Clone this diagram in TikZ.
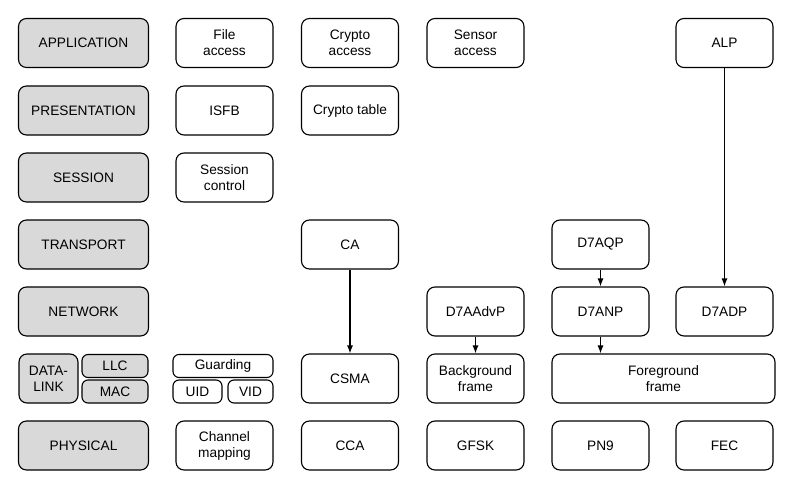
\documentclass[tikz,border=0pt]{standalone}
\usepackage{fontspec}
\setmainfont{Liberation Sans}
\usetikzlibrary{arrows.meta}
\definecolor{layergray}{HTML}{D9D9D9}
\tikzset{
  box/.style={draw=black, line width=1.1pt, rounded corners=8pt, fill=white,
    minimum width=97pt, minimum height=49pt, inner sep=1pt, align=center,
    font=\fontsize{13.7}{16}\selectfont},
  layer/.style={box, fill=layergray, minimum width=130pt},
  small/.style={box, rounded corners=6pt, minimum height=23pt},
  arr/.style={line width=1.1pt, -{Latex[length=8pt,width=6pt]}}
}
\begin{document}
\begin{tikzpicture}[x=1pt,y=-1pt]
\useasboundingbox (0,0) rectangle (793,487);
% layers
\node[layer] (app) at (83.5,43) {APPLICATION};
\node[layer] (pres) at (83.5,110.5) {PRESENTATION};
\node[layer] (sess) at (83.5,177.5) {SESSION};
\node[layer] (trans) at (83.5,244.5) {TRANSPORT};
\node[layer] (net) at (83.5,311.5) {NETWORK};
\node[layer, minimum width=59pt] (dl) at (48.5,378.5) {DATA-\\LINK};
\node[small, fill=layergray, minimum width=66pt] (llc) at (115,366) {LLC};
\node[small, fill=layergray, minimum width=66pt] (mac) at (115,391.5) {MAC};
\node[layer] (phys) at (83.5,445.5) {PHYSICAL};
% row 1
\node[box] (fa) at (224.5,43) {File\\access};
\node[box] (ca1) at (350,43) {Crypto\\access};
\node[box] (sa) at (475.5,43) {Sensor\\access};
\node[box] (alp) at (724.5,43) {ALP};
% row 2
\node[box] (isfb) at (224.5,110.5) {ISFB};
\node[box] (ct) at (350,110.5) {Crypto table};
% row 3
\node[box] (sc) at (224.5,177.5) {Session\\control};
% row 4
\node[box] (ca) at (350,244.5) {CA};
\node[box] (qp) at (600.5,244.5) {D7AQP};
% row 5
\node[box] (adv) at (475.5,311.5) {D7AAdvP};
\node[box] (anp) at (600.5,311.5) {D7ANP};
\node[box] (adp) at (724.5,311.5) {D7ADP};
% row 6
\node[small, minimum width=100pt] (guard) at (223,366) {Guarding};
\node[small, minimum width=49pt] (uid) at (197.5,391.5) {UID};
\node[small, minimum width=45pt] (vid) at (250.5,391.5) {VID};
\node[box] (csma) at (350,378.5) {CSMA};
\node[box] (bg) at (475.5,378.5) {Background\\frame};
\node[box, minimum width=223pt] (fg) at (663.5,378.5) {Foreground\\frame};
% row 7
\node[box] (cm) at (224.5,445.5) {Channel\\mapping};
\node[box] (cca) at (350,445.5) {CCA};
\node[box] (gfsk) at (475.5,445.5) {GFSK};
\node[box] (pn9) at (600.5,445.5) {PN9};
\node[box] (fec) at (724.5,445.5) {FEC};
% arrows
\draw[arr] (ca.south) -- (csma.north);
\draw[arr] (adv.south) -- (bg.north);
\draw[arr] (qp.south) -- (anp.north);
\draw[arr] (anp.south) -- (anp.south |- fg.north);
\draw[arr] (alp.south) -- (adp.north);
\end{tikzpicture}
\end{document}
